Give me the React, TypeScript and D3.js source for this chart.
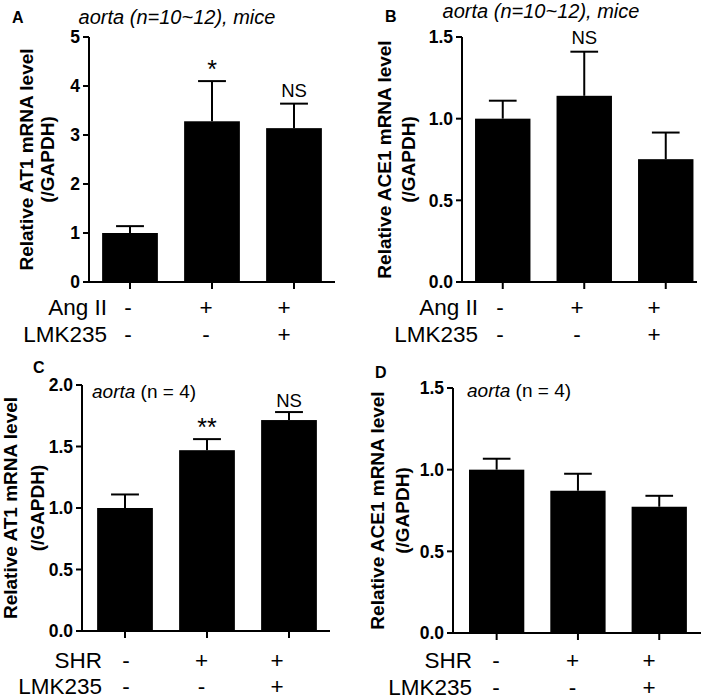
import React from "react";
import * as d3 from "d3";

// ---------- data ----------
const groups = ["g1", "g2", "g3"];

const aMeans = [1.0, 3.28, 3.14];
const aUpper = [1.14, 4.1, 3.64];
const aMarks = ["", "*", "NS"];

const bMeans = [1.0, 1.14, 0.752];
const bUpper = [1.11, 1.41, 0.915];
const bMarks = ["", "NS", ""];

const cMeans = [1.0, 1.47, 1.715];
const cUpper = [1.11, 1.56, 1.78];
const cMarks = ["", "**", "NS"];

const dMeans = [1.0, 0.871, 0.773];
const dUpper = [1.067, 0.975, 0.84];
const dMarks = ["", "", ""];

const abRowNames = ["Ang II", "LMK235"];
const cdRowNames = ["SHR", "LMK235"];
const row1Signs = ["-", "+", "+"];
const row2Signs = ["-", "-", "+"];

const aTicks = [0, 1, 2, 3, 4, 5];
const halfTicks = [0, 0.5, 1.0, 1.5];
const cTicks = [0, 0.5, 1.0, 1.5, 2.0];

const FONT = "'Liberation Sans', Arial, Helvetica, sans-serif";

type Layout = {
  letter: string;
  letterX: number;
  letterY: number;
  axisX: number;
  axisEnd: number;
  y0: number;
  yTop: number;
  yMax: number;
  bandStart: number;
  step: number;
  label1X: number;
  label2X: number;
  yLabel: string;
  signStart: number;
  signEnd: number;
  rowRight: number;
  rowY: number[];
  markGap: number;
};

function Panel({
  L,
  means,
  upper,
  marks,
  ticks,
  fmt,
  rowNames,
  title,
}: {
  L: Layout;
  means: number[];
  upper: number[];
  marks: string[];
  ticks: number[];
  fmt: (v: number) => string;
  rowNames: string[];
  title: React.ReactNode;
}) {
  const y = d3.scaleLinear().domain([0, L.yMax]).range([L.y0, L.yTop]);
  const x = d3
    .scaleBand<string>()
    .domain(groups)
    .range([L.bandStart, L.bandStart + 3 * L.step])
    .paddingInner(0.32)
    .paddingOuter(0.16);
  const sx = d3.scalePoint<string>().domain(groups).range([L.signStart, L.signEnd]);
  const bw = x.bandwidth();
  const yMid = (L.y0 + L.yTop) / 2;
  return (
    <g>
      <text x={L.letterX} y={L.letterY} fontSize={16} fontWeight="bold" fontFamily={FONT}>
        {L.letter}
      </text>
      {title}
      {/* bars */}
      {groups.map((g, i) => (
        <rect
          key={g}
          x={x(g)!}
          y={y(means[i])}
          width={bw}
          height={L.y0 - y(means[i])}
          fill="#000"
        />
      ))}
      {/* error bars */}
      {groups.map((g, i) => {
        const cx = x(g)! + bw / 2;
        return (
          <g key={"e" + g} stroke="#000" strokeWidth={2}>
            <line x1={cx} x2={cx} y1={y(means[i])} y2={y(upper[i])} />
            <line x1={cx - bw / 4} x2={cx + bw / 4} y1={y(upper[i])} y2={y(upper[i])} />
          </g>
        );
      })}
      {/* marks */}
      {groups.map((g, i) => {
        if (!marks[i]) return null;
        const star = marks[i].startsWith("*");
        return (
          <text
            key={"m" + g}
            x={x(g)! + bw / 2}
            y={star ? y(upper[i]) - 3 : y(upper[i]) - L.markGap}
            textAnchor="middle"
            fontSize={star ? 25 : 18.5}
            fontFamily={FONT}
          >
            {marks[i]}
          </text>
        );
      })}
      {/* y axis */}
      <line x1={L.axisX} x2={L.axisX} y1={L.yTop} y2={L.y0} stroke="#000" strokeWidth={2} />
      {ticks.map((t) => (
        <g key={"t" + t}>
          <line x1={L.axisX - 6} x2={L.axisX} y1={y(t)} y2={y(t)} stroke="#000" strokeWidth={2} />
          <text
            x={L.axisX - 9}
            y={y(t)}
            dy="0.36em"
            textAnchor="end"
            fontSize={17.5}
            fontWeight="bold"
            fontFamily={FONT}
          >
            {fmt(t)}
          </text>
        </g>
      ))}
      {/* x axis */}
      <line x1={L.axisX - 1} x2={L.axisEnd} y1={L.y0} y2={L.y0} stroke="#000" strokeWidth={2} />
      {groups.map((g) => (
        <line
          key={"xt" + g}
          x1={x(g)! + bw / 2}
          x2={x(g)! + bw / 2}
          y1={L.y0}
          y2={L.y0 + 7}
          stroke="#000"
          strokeWidth={2}
        />
      ))}
      {/* y label */}
      <text
        transform={`translate(${L.label1X},${yMid}) rotate(-90)`}
        textAnchor="middle"
        fontSize={19}
        fontWeight="bold"
        fontFamily={FONT}
      >
        {L.yLabel}
      </text>
      <text
        transform={`translate(${L.label2X},${yMid}) rotate(-90)`}
        textAnchor="middle"
        fontSize={19}
        fontWeight="bold"
        fontFamily={FONT}
      >
        (/GAPDH)
      </text>
      {/* treatment rows */}
      {rowNames.map((n, r) => (
        <text
          key={"rn" + r}
          x={L.rowRight}
          y={L.rowY[r]}
          textAnchor="end"
          fontSize={22.5}
          fontFamily={FONT}
        >
          {n}
        </text>
      ))}
      {[row1Signs, row2Signs].map((signs, r) =>
        groups.map((g, i) => (
          <text
            key={"s" + r + g}
            x={sx(g)!}
            y={L.rowY[r]}
            textAnchor="middle"
            fontSize={22.5}
            fontFamily={FONT}
          >
            {signs[i]}
          </text>
        ))
      )}
    </g>
  );
}

const layA: Layout = {
  letter: "A", letterX: 12, letterY: 23, axisX: 89, axisEnd: 335, y0: 282, yTop: 37, yMax: 5,
  bandStart: 89, step: 82, label1X: 33, label2X: 54, yLabel: "Relative AT1 mRNA level",
  signStart: 128, signEnd: 284, rowRight: 107, rowY: [315, 342], markGap: 7,
};
const layB: Layout = {
  letter: "B", letterX: 385, letterY: 22, axisX: 462, axisEnd: 697, y0: 282, yTop: 37, yMax: 1.5,
  bandStart: 462, step: 81.5, label1X: 391, label2X: 415, yLabel: "Relative ACE1 mRNA level",
  signStart: 500, signEnd: 654, rowRight: 478, rowY: [315, 342], markGap: 8,
};
const layC: Layout = {
  letter: "C", letterX: 33, letterY: 373, axisX: 82, axisEnd: 330, y0: 631, yTop: 385, yMax: 2,
  bandStart: 84, step: 82, label1X: 17, label2X: 44, yLabel: "Relative AT1 mRNA level",
  signStart: 126, signEnd: 277, rowRight: 102, rowY: [668, 694], markGap: 5,
};
const layD: Layout = {
  letter: "D", letterX: 375, letterY: 378, axisX: 453, axisEnd: 701, y0: 633, yTop: 388, yMax: 1.5,
  bandStart: 456, step: 81.3, label1X: 384, label2X: 409, yLabel: "Relative ACE1 mRNA level",
  signStart: 496, signEnd: 649, rowRight: 472, rowY: [668, 695], markGap: 5,
};

const fmtInt = d3.format("d");
const fmt1 = d3.format(".1f");

export default function App() {
  return (
    <svg
      width={709}
      height={700}
      style={{ position: "absolute", left: 0, top: 0, background: "#fff" }}
      fontFamily={FONT}
    >
      <rect width={709} height={700} fill="#fff" />
      <Panel
        L={layA}
        means={aMeans}
        upper={aUpper}
        marks={aMarks}
        ticks={aTicks}
        fmt={fmtInt}
        rowNames={abRowNames}
        title={
          <text x={177} y={24} textAnchor="middle" fontSize={20} fontStyle="italic" fontFamily={FONT}>
            aorta (n=10~12), mice
          </text>
        }
      />
      <Panel
        L={layB}
        means={bMeans}
        upper={bUpper}
        marks={bMarks}
        ticks={halfTicks}
        fmt={fmt1}
        rowNames={abRowNames}
        title={
          <text x={541} y={18} textAnchor="middle" fontSize={20} fontStyle="italic" fontFamily={FONT}>
            aorta (n=10~12), mice
          </text>
        }
      />
      <Panel
        L={layC}
        means={cMeans}
        upper={cUpper}
        marks={cMarks}
        ticks={cTicks}
        fmt={fmt1}
        rowNames={cdRowNames}
        title={
          <text x={92} y={398} fontSize={19} fontFamily={FONT}>
            <tspan fontStyle="italic">aorta</tspan> (n = 4)
          </text>
        }
      />
      <Panel
        L={layD}
        means={dMeans}
        upper={dUpper}
        marks={dMarks}
        ticks={halfTicks}
        fmt={fmt1}
        rowNames={cdRowNames}
        title={
          <text x={467} y={397} fontSize={19} fontFamily={FONT}>
            <tspan fontStyle="italic">aorta</tspan> (n = 4)
          </text>
        }
      />
    </svg>
  );
}
